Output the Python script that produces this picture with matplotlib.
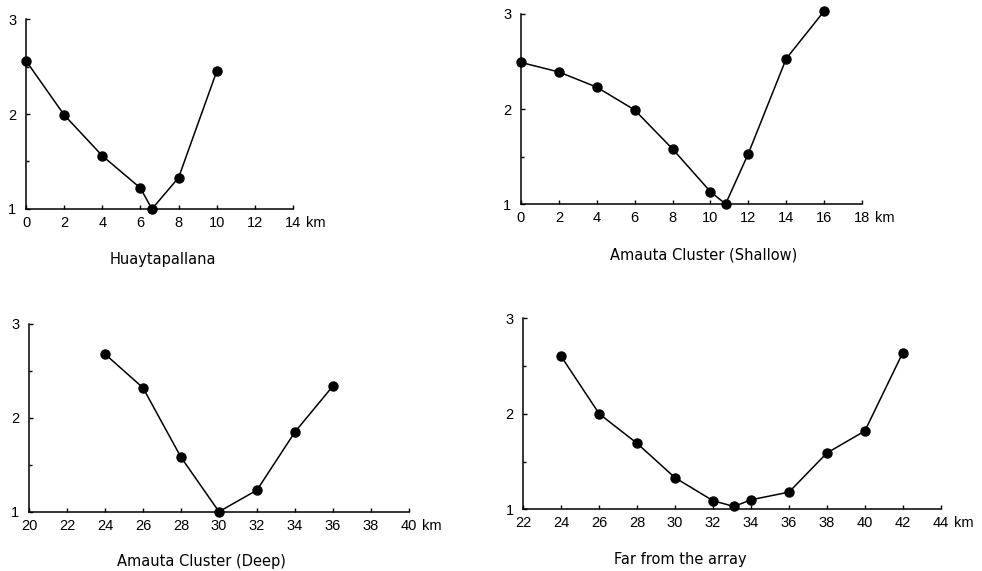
import matplotlib.pyplot as plt
import numpy as np

# 数据
huay_x = [0, 2, 4, 6, 6.6, 8, 10]
huay_y = [2.56, 1.99, 1.56, 1.22, 1.0, 1.33, 2.45]

shallow_x = [0, 2, 4, 6, 8, 10, 10.8, 12, 14, 16]
shallow_y = [2.49, 2.39, 2.23, 1.99, 1.58, 1.13, 1.0, 1.53, 2.53, 3.03]

deep_x = [24, 26, 28, 30, 32, 34, 36]
deep_y = [2.68, 2.32, 1.58, 1.0, 1.23, 1.85, 2.34]

far_x = [24, 26, 28, 30, 32, 33.1, 34, 36, 38, 40, 42]
far_y = [2.6, 2.0, 1.69, 1.33, 1.09, 1.03, 1.1, 1.18, 1.59, 1.82, 2.64]

titles = ['Huaytapallana', 'Amauta Cluster (Shallow)',
          'Amauta Cluster (Deep)', 'Far from the array']
xranges = [(0, 14), (0, 18), (20, 40), (22, 44)]

plt.rcParams['font.family'] = ['Liberation Sans', 'DejaVu Sans']

fig = plt.figure(figsize=(9.82, 5.71), dpi=100)

# 各子图位置 [left, bottom, width, height]
rects = [
    [0.0265, 0.634, 0.2719, 0.3327],
    [0.5305, 0.6427, 0.3473, 0.3328],
    [0.0295, 0.1039, 0.3870, 0.3287],
    [0.5329, 0.1080, 0.4251, 0.3346],
]
title_pos = [(0.1655, 0.5447), (0.717, 0.553), (0.2047, 0.016), (0.6925, 0.0193)]

series = [(huay_x, huay_y), (shallow_x, shallow_y), (deep_x, deep_y), (far_x, far_y)]

for rect, (xs, ys), (x0, x1), title, tpos in zip(rects, series, xranges, titles, title_pos):
    ax = fig.add_axes(rect)
    ax.plot(xs, ys, '-o', color='black', lw=1.1, markersize=6.5, clip_on=False, zorder=3)
    ax.set_xlim(x0, x1)
    ax.set_ylim(1, 3)
    ax.spines['top'].set_visible(False)
    ax.spines['right'].set_visible(False)
    ax.spines['left'].set_linewidth(1.1)
    ax.spines['bottom'].set_linewidth(1.1)
    ax.set_xticks(np.arange(x0, x1 + 1, 2))
    ax.set_yticks([1, 2, 3])
    ax.set_yticks([1.5, 2.5], minor=True)
    ax.tick_params(axis='x', direction='in', length=3, width=1, labelsize=10.5, pad=5)
    ax.tick_params(axis='y', direction='in', length=3, width=1, labelsize=10.5, pad=7)
    ax.tick_params(axis='y', which='minor', direction='in', length=2.5, width=1)
    ax.annotate('km', xy=(1, 0), xycoords='axes fraction', xytext=(9.5, -5),
                textcoords='offset points', ha='left', va='top', fontsize=10.5)
    fig.text(tpos[0], tpos[1], title, ha='center', va='center', fontsize=10.5,
             family='DejaVu Sans')

plt.savefig('out.png')
